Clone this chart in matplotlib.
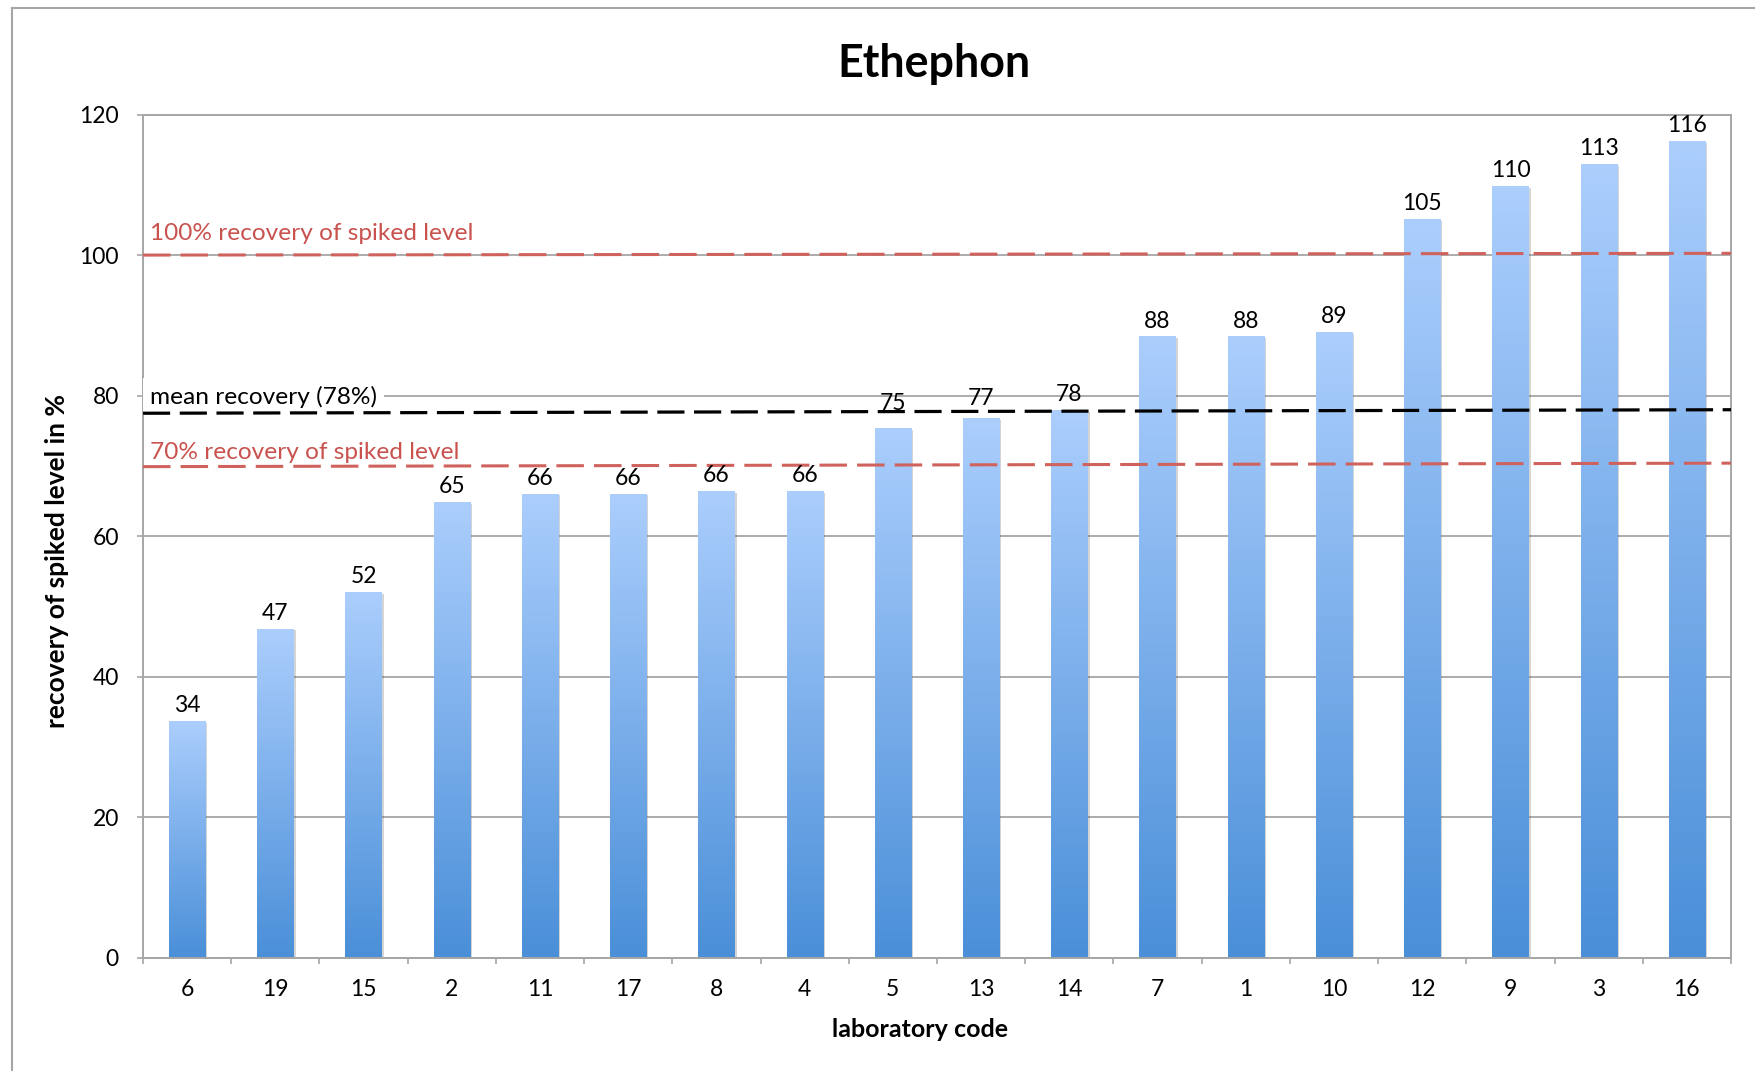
import numpy as np
import matplotlib
matplotlib.use('Agg')
import matplotlib.pyplot as plt
from matplotlib.colors import LinearSegmentedColormap
from matplotlib.lines import Line2D
from matplotlib.patches import Rectangle
import matplotlib.patheffects as pe

plt.rcParams['font.family'] = ['Lato', 'DejaVu Sans']

# ---------------- data ----------------
title = "Ethephon"
lab_codes = ["6", "19", "15", "2", "11", "17", "8", "4", "5", "13", "14",
             "7", "1", "10", "12", "9", "3", "16"]
recovery = [33.7, 46.8, 52.0, 64.8, 66.0, 66.0, 66.4, 66.4, 75.3, 76.7, 77.9,
            88.4, 88.4, 89.0, 105.1, 109.8, 112.9, 116.2]
y_ticks = [0, 20, 40, 60, 80, 100, 120]
line_100 = [100.0, 100.25]   # left / right end values as drawn
line_mean = [77.5, 78.0]
line_70 = [69.9, 70.4]
label_100 = "100% recovery of spiked level"
label_mean = "mean recovery (78%)"
label_70 = "70% recovery of spiked level"
x_label = "laboratory code"
y_label = "recovery of spiked level in %"

# ---------------- styling ----------------
W, H = 1756, 1071
fig = plt.figure(figsize=(W / 100, H / 100), dpi=100)
ax_l, ax_r, ax_t, ax_b = 143, 1731, 114.5, 958
ax = fig.add_axes([ax_l / W, 1 - ax_b / H, (ax_r - ax_l) / W, (ax_b - ax_t) / H])

grid_c = '#a6a6a6'
red_c = '#cf625c'
red_txt = '#c9524e'
bar_bottom = '#4a8fd8'
bar_top = '#abcefd'
cmap = LinearSegmentedColormap.from_list('bar', [bar_bottom, bar_top])
grad = np.linspace(0, 1, 256).reshape(-1, 1)

n = len(recovery)
xs = np.arange(n)
bw = 0.41
# extra upward nudge (points) for labels moved clear of the mean line
label_nudge = {8: 7.2, 9: 3.2}

for i, (x, v) in enumerate(zip(xs, recovery)):
    rect = Rectangle((x - bw / 2, 0), bw, v, facecolor=bar_bottom, edgecolor='none',
                     zorder=2,
                     path_effects=[pe.SimplePatchShadow(offset=(1.5, -1.0), shadow_rgbFace='#555555', alpha=0.25),
                                   pe.Normal()])
    ax.add_patch(rect)
    ax.imshow(grad, extent=[x - bw / 2, x + bw / 2, 0, v], origin='lower', cmap=cmap,
              aspect='auto', zorder=2.1, interpolation='bilinear')
    ax.annotate(f"{v:.0f}", xy=(x, v), xytext=(0, 6.5 + label_nudge.get(i, 0)),
                textcoords='offset points',
                ha='center', va='baseline', fontsize=16.5, color='black', zorder=4)

ax.set_xlim(-0.5, n - 0.5)
ax.set_ylim(0, 120)
ax.set_aspect('auto')

# grid
ax.set_yticks(y_ticks)
ax.yaxis.grid(True, color=grid_c, linewidth=1.3, zorder=0.5)
ax.set_axisbelow(True)
for s in ax.spines.values():
    s.set_color(grid_c)
    s.set_linewidth(1.4)

ax.tick_params(axis='y', direction='out', length=4.3, width=1.2, color=grid_c,
               labelsize=16.5, pad=13)
ax.set_xticks(xs)
ax.set_xticklabels(lab_codes)
ax.tick_params(axis='x', which='major', length=0, labelsize=16.5, pad=15)
ax.set_xticks(np.arange(-0.5, n, 1.0), minor=True)
ax.tick_params(axis='x', which='minor', direction='out', length=4.3, width=1.2, color=grid_c)

# reference lines
xl = [-0.5, n - 0.5]
ax.plot(xl, line_100, color=red_c, lw=2.2, dashes=(9, 3.3), zorder=3, solid_capstyle='butt')
ax.plot(xl, line_70, color=red_c, lw=2.2, dashes=(9, 3.3), zorder=3)
ax.plot(xl, line_mean, color='black', lw=2.3, dashes=(8.5, 3.0), zorder=3)

ax.text(-0.42, 102.2, label_100, color=red_txt, fontsize=17.6, ha='left', va='baseline', zorder=4)
ax.text(-0.42, 71.0, label_70, color=red_txt, fontsize=17.6, ha='left', va='baseline', zorder=4)
ax.text(-0.42, 78.86, label_mean, color='black', fontsize=17.6, ha='left', va='baseline',
        zorder=2.7, clip_on=False,
        bbox=dict(boxstyle='square,pad=0.3', facecolor='white', edgecolor='none'))

# titles
fig.text(933.5 / W, 1 - 76.7 / H, title, ha='center', va='baseline', fontsize=32.2,
         fontweight='bold')
fig.text(919.5 / W, 1 - 1036.7 / H, x_label, ha='center', va='baseline', fontsize=18,
         fontweight='bold')
fig.text(57 / W, 1 - 561 / H, y_label, ha='center', va='center', rotation=90,
         fontsize=19, fontweight='bold')

# outer frame (left and top edges visible)
fig.add_artist(Line2D([11.7 / W, 11.7 / W], [0, 1 - 8 / H], transform=fig.transFigure,
                      color=grid_c, lw=1.5))
fig.add_artist(Line2D([11.7 / W, 1], [1 - 8 / H, 1 - 8 / H], transform=fig.transFigure,
                      color=grid_c, lw=1.5))

fig.savefig('out.png', dpi=100)
